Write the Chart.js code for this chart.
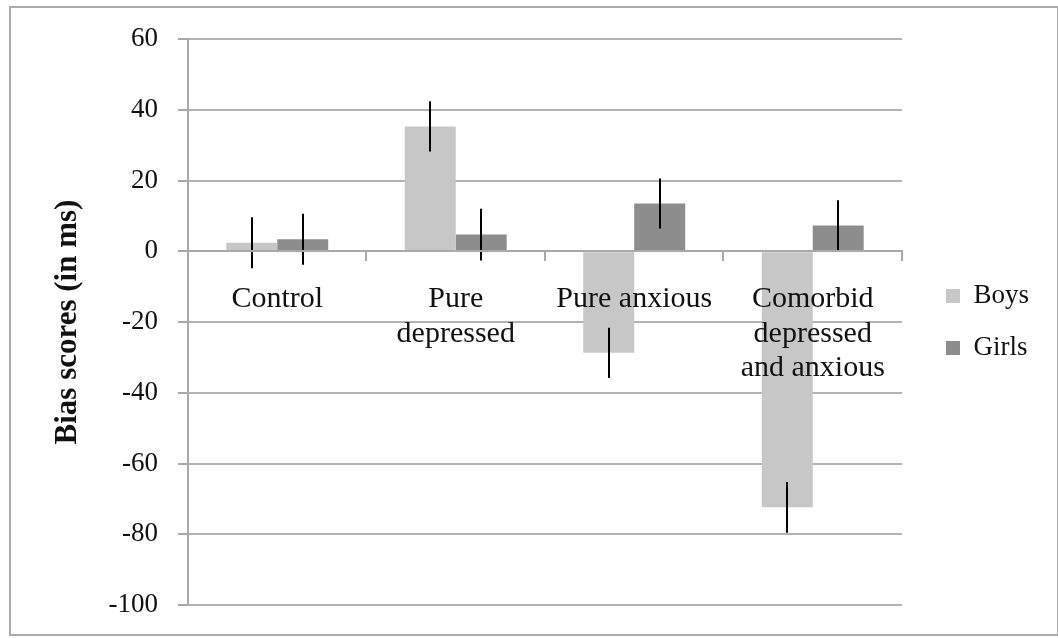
<!DOCTYPE html>
<html>
<head>
<meta charset="utf-8">
<script src="https://cdn.jsdelivr.net/npm/chart.js@4"></script>
<style>
  html, body { margin: 0; padding: 0; background: #fff; }
  #wrap { position: relative; width: 1058px; height: 638px; }
  #frame { position: absolute; left: 9px; top: 6px; width: 1050px; height: 630px; border: 2px solid #ababab; box-sizing: border-box; pointer-events: none; }
  canvas { position: absolute; left: 0; top: 0; }
</style>
</head>
<body>
<div id="wrap">
  <canvas id="c" width="1058" height="638"></canvas>
  <div id="frame"></div>
</div>
<script>
const categories = ['Control', ['Pure', 'depressed'], 'Pure anxious', ['Comorbid', 'depressed', 'and anxious']];
const boys = [2.4, 35.3, -28.7, -72.4];
const girls = [3.4, 4.7, 13.5, 7.3];
const boysErr = [7.2, 7.1, 7.1, 7.2];
const girlsErr = [7.2, 7.3, 7.1, 7.1];
const yMin = -100;
const yMax = 60;
const yStep = 20;
const yTitle = 'Bias scores (in ms)';
const seriesNames = ['Boys', 'Girls'];

const FONT = "'Liberation Serif', 'Times New Roman', serif";

const errorBars = {
  id: 'errorBars',
  afterDatasetsDraw(chart) {
    const ctx = chart.ctx;
    const ys = chart.scales.y;
    const errs = [boysErr, girlsErr];
    ctx.save();
    ctx.strokeStyle = '#000';
    ctx.lineWidth = 2;
    chart.data.datasets.forEach((ds, i) => {
      const meta = chart.getDatasetMeta(i);
      meta.data.forEach((bar, j) => {
        const v = ds.data[j];
        const e = errs[i][j];
        const x = Math.round(bar.x);
        ctx.beginPath();
        ctx.moveTo(x, ys.getPixelForValue(v + e));
        ctx.lineTo(x, ys.getPixelForValue(v - e));
        ctx.stroke();
      });
    });
    ctx.restore();
  }
};

const legendShift = {
  id: 'legendShift',
  afterLayout(chart) {
    const lg = chart.legend;
    if (!lg) return;
    const target = chart.chartArea.right + 19;
    const dx = target - lg.left;
    lg.left += dx;
    lg.right += dx;
  }
};

new Chart(document.getElementById('c'), {
  type: 'bar',
  data: {
    labels: categories,
    datasets: [
      { label: seriesNames[0], data: boys, backgroundColor: '#c7c7c7', borderWidth: 0 },
      { label: seriesNames[1], data: girls, backgroundColor: '#8d8d8d', borderWidth: 0 }
    ]
  },
  options: {
    responsive: false,
    animation: false,
    devicePixelRatio: 1,
    layout: { padding: { left: 40, top: 39, bottom: 33, right: 38 } },
    datasets: { bar: { categoryPercentage: 0.571, barPercentage: 1.0 } },
    plugins: {
      tooltip: { enabled: false },
      legend: {
        position: 'right',
        labels: {
          boxWidth: 14,
          boxHeight: 14,
          padding: 25,
          color: '#111',
          font: { family: FONT, size: 27 }
        }
      }
    },
    scales: {
      x: {
        position: { y: 0 },
        offset: true,
        border: { display: true, color: '#a9a9a9', width: 2, z: 1 },
        grid: { display: true, drawOnChartArea: false, drawTicks: true, tickLength: 9, offset: true, color: '#a9a9a9', lineWidth: 2, z: 1 },
        ticks: { z: 1, color: '#111', padding: 22, maxRotation: 0, autoSkip: false, font: { family: FONT, size: 30, lineHeight: 1.15 } }
      },
      y: {
        min: yMin,
        max: yMax,
        afterFit(scale) { scale.width = 148; scale.paddingTop = 0; scale.paddingBottom = 0; },
        border: { display: true, color: '#a9a9a9', width: 2 },
        grid: { color: '#b3b3b3', lineWidth: 2, tickLength: 10, tickColor: '#a9a9a9' },
        ticks: { stepSize: yStep, color: '#111', padding: 20, font: { family: FONT, size: 27 } },
        title: { display: true, text: yTitle, color: '#111', padding: { top: 9, bottom: 0 }, font: { family: FONT, size: 31, weight: 'bold' } }
      }
    }
  },
  plugins: [errorBars, legendShift]
});
</script>
</body>
</html>
